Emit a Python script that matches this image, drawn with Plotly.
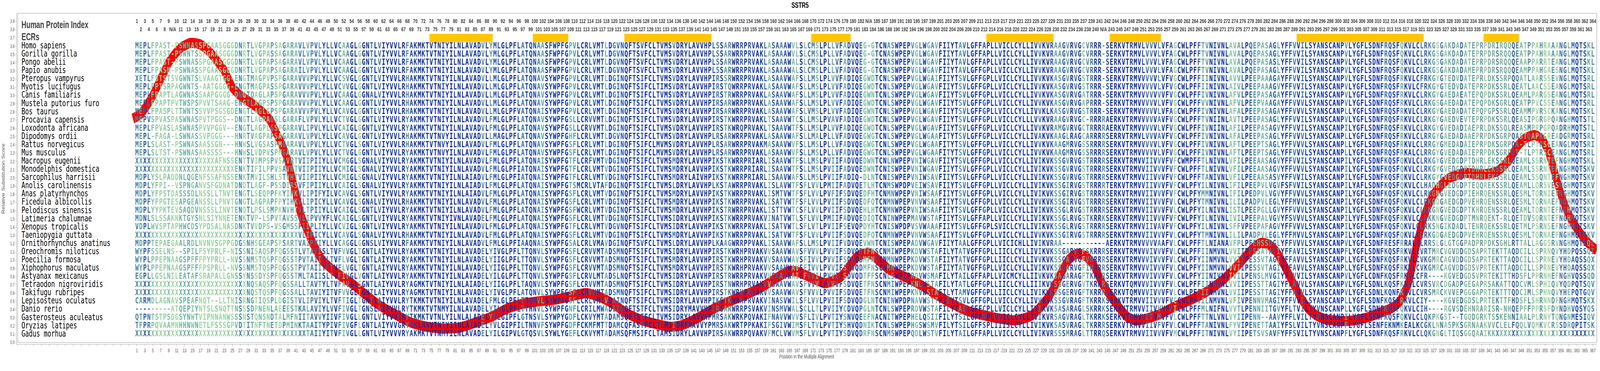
"""SSTR5 alignment with relative substitution score"""
import plotly.graph_objects as go
from plotly.colors import sample_colorscale

SPECIES = [
    "Homo sapiens", "Gorilla gorilla", "Pongo abelii", "Papio anubis",
    "Pteropus vampyrus", "Myotis lucifugus", "Canis familiaris",
    "Mustela putorius furo", "Bos taurus", "Procavia capensis",
    "Loxodonta africana", "Dipodomys ordii", "Rattus norvegicus",
    "Mus musculus", "Macropus eugenii", "Monodelphis domestica",
    "Sarcophilus harrisii", "Anolis carolinensis", "Anas platyrhynchos",
    "Ficedula albicollis", "Pelodiscus sinensis", "Latimeria chalumnae",
    "Xenopus tropicalis", "Taeniopygia guttata", "Ornithorhynchus anatinus",
    "Oreochromis niloticus", "Poecilia formosa", "Xiphophorus maculatus",
    "Astyanax mexicanus", "Tetraodon nigroviridis", "Takifugu rubripes",
    "Lepisosteus oculatus", "Danio rerio", "Gasterosteus aculeatus",
    "Oryzias latipes", "Gadus morhua",
]

# alignment read in six strips; a strip starts at the column in STRIP_START
# (its first letter repeats the last column of the strip before)
STRIP_START = [1, 58, 120, 182, 244, 306]

STRIP_1 = [
    "MEPLFPAST-PSWNASSPGAASGGGDNRTLVGPAPSAGARAVLVPVLYLLVCAAGLGG",
    "MEPLFPAST-PSWNTSSPGAASGGGDNRTLVGPASSAGARAVLVPVLYLLVCAAGLGG",
    "MEPLFPAST-PSWNASSPGAASGGGDNRTLVGPAPSAGARAVLVPVLYLLVCAAGLGG",
    "MEPLFPASM-PSWNASSPGAASGGGDNRTLVGPAPSAGARAILVPVLYLLVCAAGLGG",
    "XETLFSTSTSVGWNTSLVAAGTGG-ENGTMAGPVPSPGARAVVVPVLYLLVCSVGLGG",
    "MEPLFPTSRPAGWNTS-AATGGGG-ENGTMAGPASSPGARAVVVPVLYLLVCVVGLGG",
    "MEPLFPAPTLAGWNASSAAPGGGG-DNGTQAGLAPSPGARAVVVPVLYLLVCAAGLGG",
    "MEPLFPAPTPVTWSPSPVVTSAAG-ENGTLAGPSPSPGARAVVVPVLYLLVCAAGLGG",
    "MEPLFPASPLTTWNTSSVVPSGSGDENGTLAGLGPSPGARAVVVPVLYLLVCAVGLGG",
    "MEPVSPVASPASWNASPVTPGGS--DNGTLAGPAGSLGARAFLVPVLYLLVCTVGLGG",
    "MEPLFPVASLASWNASPVVPGGV--ENGTLAGPLGSPGARAVLIPVLYLLVCAIGLGG",
    "MEPL-FAGA-LSWNASSVPGGG---HNRTVAGPAPSAGARAVLVPVLYLLVCAVGLGG",
    "MEPLSLAST-PSWNASAASSGN---HNWSLVGSASPMGARAVLVPVLYLLVCTVGLSG",
    "MEPLSLTST-PSWNASAASSSS---HNWSLVDPVSPMGARAVLVPVLYLLVCTVGLGG",
    "X" * 20 + "AFNSSENTTVIMPSPVSAVRTVIIPIIYLLVCMGGLSG",
    "X" * 25 + "ENKTIFILPPVSAVRTVIIPIIYLLVCMIGLSG",
    "MDPLYSLPADDNLQGENFSSAFNSSENKTMVILSHLSTVHTVIIPIIYLLVCMIGLSG",
    "MDPLYFPI--VSPNGANVSFGDNATDNDTLAGF-PSSDIRSVFIPIIYLLVCAIGLSG",
    "MDPLYFPSTDASSSDLNSSLLTNVTENGTLSEQPPFKYIHKVLIPIFYILVCAVGLSG",
    "MDPFYFPGTESAPGEANSSLLPNVTGNGTLAGPAPFPYIHKVLIPICYLLVCAVGLSG",
    "MDPLYYPKTEVSAQDVNSSSLINVTENQTLPSLSMPKNVHTVLTPIIYLLVCAIGLSG",
    "MDNLSLSSAKNKTGYSNLSIYNNETENKTVP-LSPVTAVSSVLIPVVYFLVCAIGLSG",
    "VDPLWVSPTAPHWCDSYPDSALNASDNKTVVDPS-VSGMSSFIIPLIYLLVCVIGLSG",
    "X" * 41 + "VLIPICYLLVCAVGLSG",
    "MDPPTEPAEGAALRDLNVNVSGPPGDGSNHSGEAPSPSARTVAIPVIYLLVCAGGLGG",
    "WYPFSSELNS--SPILFSYPRLF-NISSNISAQSPFQGSSTLVTAVISLTVFVVGLTG",
    "WYPLPPEPNAAGSPFFFPYPRLL-NVSSNMSTQSPFQGSSTPVTAIIYLTVFLVGLTG",
    "WYPLPPEPNAAGSPFFFPSPRLL-NVSSNMSTQSPFQGSSTPVTAIIYFTVFLVGLTG",
    "EGPLLGSLNILEATAFSRAPALLGNSSYNSSDYSPFQGSSTMLTAIISLTVFIVGLVG",
    "X" * 28 + "NQSAQSPFQGSSALLTAVTYLTVFAVGLSG",
    "X" * 28 + "NQSTQSPFQGSSALLTAVIYITVFVVGLTG",
    "CARMDLAGNAVSPEAFNQT--LLTNISRNGTIQSPLDGISTVLIPVIYLTVFTIGLTG",
    "---------ATQEPIYNTSLSNQTTNSSSDPNENLAEEESTKALAVIYLVVFIVGLTG",
    "QTPNTSTPSDGSYNWTVIPNNANWSSSNSTQNSNDTALMFNIITAVVYIIVFIVGLLG",
    "TFPRPQVAAMNHHNWNETLFSSSGPVDTITNFTNETDPMINKTAAITYPIVFIVGFLG",
    "X" * 43 + "TAIIYITVFIVGLLG",
]

STRIP_2 = [
    "GNTLVIYVVLRFAKMKTVTNIYILNLAVADVLYMLGLPFLATQNAASFWPFGPVLCRLVMTLD",
    "GNTLVIYVVLRFAKMKTVTNIYILNLAVADVLYMLGLPFLATQNAASFWPFGPVLCRLVMTLD",
    "GNTLVIYVVLRFAKMKTVTNIYILNLAVADVLYMLGLPFLATQNAASFWPFGPVLCRLVMTLD",
    "GNTLVIYVVLRFAKMKTVTNIYILNLAVADVLYMLGLPFLATQNAASFWPFGPVLCRLVMTLD",
    "GNTLVIYVVLRHAKMKTVTNIYILNLAVADVLLMLGLPFLATQNAVSYWPFGPVLCRLVMTLD",
    "GNTLVIYVVLRHAKMKTVTNIYILNLAVADVLLMLGLPFLATQNAVSYWPFGPVLCRLVMTLD",
    "GNALVIYVVLRHAKMKTVTNIYILNLAVADVLLMLGLPFLATQNAVSYWPFGPVLCRLVMTLD",
    "GNTLVIYVVLRHAKMKTVTNIYILNLAVADVLLMLGLPFLATQNAVSYWPFGPVLCRLVMTLD",
    "GNTLVIYVVLRHAKMKTVTNIYILNLAVADVLLMLGLPFVATQNAISYWPFGPVLCRLVMTLD",
    "GNTLVIYVVLRYAKMKTVTNIYILNLAVADVLFMLGLPFLATQNAVSYWPFGSLLCRVVMTLD",
    "GNTLVIYVVLRYAKMKTVTNIYILNLAVADVLFMLGLPFLATQNAVSYWPFGSLLCRVVMTLD",
    "GNTLVIYVVLRHAKMKTVTNVYILNLAVADVLLMAGLPFLATQNAVSYWPFGHFLCRLVMTLD",
    "GNTLVIYVVLRHAKMKTVTNVYILNLAVADVLFMLGLPFLATQNAVSYWPFGSFLCRLVMTLD",
    "GNTLVIYVVLRYAKMKTVTNVYILNLAVADVLFMLGLPFLATQNAVSYWPFGSFLCRLVMTLD",
    "GNALVIYVVLRYAKMKTVTNIYILNLAVADVLFMLGLPFLATQNAISYWPFGTFLCRFVMTVD",
    "GNALVIYVVLRYAKMKTVTNIYILNLAVADVLFMLGLPFIATQNAISYWPFGTFLCRLVMTVD",
    "GNALVIYVVLRYAKMKTVTNIYILNLAIADVLFMLGLPFIATQNAISYWPFGTFLCRLVMTVD",
    "GNALVIYVVLRYAKMKTVTNIYILNLAIADVLFMLGLPFLATQNAISYWPFGTSMCRLVTAFD",
    "GNTLVIYVVLRYAKMKTVTNIYILNLAIADVLFMLGLPFLATQNAISYWPFGSFLCRLVMTVD",
    "GNALVIYVVLRHAKMKTVTNIYILNLAVADVLFMLGLPFLATQNAISYWPFGSFLCRLVMTVD",
    "GNTLVIYVVLRYAKMKTVTNIYILNLAVADVLFMLGLPFLATQNAISYWPFGSFWCRLVMTVD",
    "GNTLVIYVVLRYAKMKTVTNIYIVNLAVADELFMLGLPFLATQNAISYWPFGSFLCRLVMTVD",
    "GNTLVIYVVLRYAKMKTVTNIYILNLAVADVLFMLGLPFLATQNAISYWPFGTFLCRLVMTVD",
    "GNALVIYVVLRHAKMKTVTNIYILNLAVADVLFMLGLPFLATQNAISYWPFGSFLCRLVMTVD",
    "GNSLVIYVVLRFAKMKTVTNIYILNLAVADVLFMLGLPFIAAQNALSYWPFGSALCRLVMAVD",
    "GNTLAIYVVLRYAKMKTVTNIYILNLAVADELYIVGLPFLTTQNVLSYWPFGSFLCRVVMTAD",
    "GNTLAIYVVLRYAKMKTVTNIYILNLAVADELYIIGLPFLTTQNVLSYWPFGSFLCRVVMTAD",
    "GNTLAIYVVLRYAKMKTVTNIYILNLAVADELYIIGLPFLTTQNVLSYWPFGSFLCRVVMTAD",
    "GNTLAIYVVLRYAKMKTVTNIYILNLAVADELYILGLPFLTTQNVLSYWPFGSFLCRVLMTAD",
    "GNTLAIYVVLRYAGMKTVTNIYILNLAIADELYIIGLPFLTAQNVLSYWPFGSFLCRVVMTAD",
    "GNTLAIYVVLRYAGMKTVTNIYILNLAVADELYIVGLPFLATQNVLSYWPFGSFLCRVVMTAD",
    "GNTLAIYVVLRYTKMKTVTNIYILNLAVADELFMLGLPFLTTQNVLSYWPFGSFLCRLVMTVD",
    "GNSLAIFVVLRYTKMKTVTNMYILNLAVADELYILGLPFLTTHNVLSYWPFGNFLCRILMWAD",
    "GNTLVIYVVIRYTKMKTVTNLYILNLALADELYILGIPFLGTNSVLSYWPYGDFLCKVYMTAD",
    "GNTLAIYVVGRYGKLNNVTNIYIINLAIADELYVLGIPFILTNNVFSYWPFGDFFCKMFMTTD",
    "GNTLVIYVVVRYAKMKTVTNMYILNLAVADELYILGIPVLGTQSVLSYWLYGEFLCKVYMTAD",
]

STRIP_3 = [
    "DGVNQFTSVFCLTVMSVDRYLAVVHPLSSARWRRPRVAKLASAAAWVLSLCMSLPLLVFADVQ",
    "DGVNQFTSVFCLTVMSVDRYLAVVHPLSSARWRRPRVAKLASAAAWVLSLCMSLPLLVFADVQ",
    "DGVNQFTSVFCLTVMSVDRYLAVVHPLSSARWRRPRVAKLASAAAWALSLCMSLPLLVFADVQ",
    "DGVNQFTSVFCLTVMSVDRYLAVVHPLSSARWRRPRVAKLASAAAWALSLCMSLPLLVFADVQ",
    "DGINQFTSIFCLTVMSVDRYLAVVHPIRSSRWRRPRVAKLASAAVWAFSLLMSLPLVVFADIQ",
    "DGINQFTSIFCLTIMSVDRYLAVVHPIRSTQWRRPRVAKLASAAVWAFSLLMSLPLVVFADIQ",
    "DGINQFTSIFCLTVMSVDRYLAVVHPIRSTRWRRPRVAKLASAAVWAFSLLMSLPLVVFADIQ",
    "DGINQFTSIFCLTVMSVDRYLAVVHPIRSARWRRPRVAKLASAAVWAFSLLMSLPLVVFADIQ",
    "DGINQFTSIFCLTVMSVDRYLAVVHPIRSARWRRPRVAKLASAAVWAFSLVMSLPLVVFADIQ",
    "DGINQFTSIFCLTVMSVDRYLAVVHPIRSTKWRRPRVAKLTSAAVWTCSLLMSLPVAVFADIQ",
    "DGINQFTSIFCLTVMSVDRYLAVVHPIRSTKWRQPRVAKLTSAAVWTFSLLMSLPLVVFADIQ",
    "DGVNQFTSIFCLTVMSVDRYLAVVHPLRSARWRRPRVAKLASAAVWAFSLLMALPLLVFADVQ",
    "DGINQFTSIFCLMVMSVDRYLAVVHPLRSARWRRPRVAKMASAAVWVFSLLMSLPLLVFADVQ",
    "DGINQFTSIFCLMVMSVDRYLAVVHPLRSARWRRPRVAKLASAAVWVFSLLMSLPLLVFADVQ",
    "DGINQFTSIFCLTVMSMDRYLAVVHPIKSTKWRRPRIARLISAAVWTFSLLMSLPVIIFADVQ",
    "DGINQFTSIFCLTVMSMDRYLAVVHPIKSTKWRRPRIARLISAAVWTFSLLMSLPVIIFADVQ",
    "DGINQFTSIFCLTVMSMDRYLAIVHPIKSTKWRRPRIARLISAAVWAFSLLMSLPVIIFADIQ",
    "DGINQFTSIFCLTVMSLDRYLAVVHPLKSTAWRRPRVAKLISLAVWTFSFLVVLPMIIFADVQ",
    "DGINQFTSIFCLTVMSMDRYLAVVHPIKSTKWRRPRVAKLISMTVWTFSFLVVLPVFIFSDVQ",
    "DGINQFTSIFCLTVMSMDRYLAVVHPIKSTKWRRPRVAKLISATVWTFSFLVVLPVIIFSDVQ",
    "DGINQFTSIFCLTVMSMDRYLAVVHPIKSTRWRRPRVAKLISTTVWTCSFLVVLPVIIFSDVQ",
    "DGINQFTSIFCLTVMSIDRYLAVVHPIKSTKWRRPRVAKVINATVWTLSFLVVLPMIIFADVQ",
    "DGVNQFTSIFCLTVMSIDRYLAVVHPIKSTKWRRPRVAKLISATVWTLSFLVTLPVIIFSEVQ",
    "DGINQFTSIFCLTVMSMDRYLAVVHPIKSTKWRRPRVAKLISATVWTFSFLVVLPVIIFSDVQ",
    "DGINQFTSVFCLTVMSLDRYLAVVHPLKAAGWRRPPVAKLISAAVWAFSLLMSLPVIIFVDVQ",
    "DSMNQFTSIFCLTVMSIDRYLAVVHPIRSTKWRHPRVAKVVSAAVWAVSFVVVLPVVIFSDVQ",
    "DSMNQFTSIFCLTVMSMDRYLAVVHPIRSTKWRHPRVAKVVSAAVWAVSFIVVLPVVIFSDVQ",
    "DSMNQFTSIFCLTVMSMDRYLAVVHPIRSTKWRHPRVAKVVSAAVWAVSFIVVLPVVIFSDVQ",
    "DSLNQFTSIFCLTVMSIDRYLAVVHPIRSTRWRRPRVAKVVSAAVWAISFVVILPVVIFSDVQ",
    "DSMNQFTSIFCLTVMSIDRYLAVVHPIRSTNWRHPRVAKVVSAAVWAVSFVVVLPVVVFSDVQ",
    "DSMNQFTSIFCLTVMSIDRYLAVVHPIRSTKWRHPRVAKVVSAAVWAVSFVVVLPVVIFSDVQ",
    "DAINQFTSIFCLTVMSIDRYLAVVHPIKSTKWRRPRVAKVINASVWILSFLVVLPVIIFSDVQ",
    "DSISQFTSTFCLTVMSIDRYMAVVHPIRSARWRRPSVAKVINSMVWALSCLLTLPVIIYCDVQ",
    "DAMSQFTSTFCLTVMSIDRYLAVVHPMRSAKWRKPQVAKIFNAVVWVVSFLIVLPVTIYSNVQ",
    "DAMCQFASTFCLTLMSIDRFMAVVYPMRSAKWRTPPKAKIFSGIVWIMSFLTVLPVTIYSHVQ",
    "DAMSQFMSIFCLTAMSIDRYLAVVHPIRSAKWRRPQVAKVFMCLVWVMSFLVVLPVTIYSDVQ",
]

STRIP_4 = [
    "QEG-GTCNASWPEPVGLWGAVFIIYTAVLGFFAPLLVICLCYLLIVVKVRAAGVRVGCVRRR-",
    "QEG-GTCNASWPEPVGLWGAVFIIYTAVLGFFAPLLVICLCYLLIVVKVRAAGVRVGCVRRR-",
    "QEG-GTCNASWPEPVGLWGAVFIIYTAVLGFFAPLLVICLCYLLIVVKVRAAGVRVGCVRRR-",
    "QEG-GTCNASWPEPVGLWGAVFIIYTAVLGFFGPLLVICLCYLLIVVKVRAAGVRVGCVRRR-",
    "QEGWDTCNLSWPEPVGLWGAIFIIYTSVLGFFGPLLVICLCYLLIVVKVKASGVRVGSTRRR-",
    "QEGWDTCNLSWPEPVGLWGAVFIIYTSVLGFFGPLLVICLCYLLIVVKVKASGVRVGSTRRR-",
    "QEGWNTCNLSWPEPVGLWGAVFIIYTSVLGFFGPLLVICLCYLLIVVKVKASGVRVGATRRR-",
    "QEGWDTCNLSWPEPVGLWGAVFIIYTSVLGFFGPLLVICLCYLLIVVKVKASGVRVGAPRRR-",
    "QEGWNTCNLSWPEPVGLWGAVFIIYTSVLGFFGPLLVICLCYLLIVVKLKASGVRVGSTRRR-",
    "QEGWDTCNLSWPEPVGLWGAVFIIYTSVLGFFGPLLVICLCYLLLVVKVRAAGVRVGC-RRRR",
    "QEGWDTCNLSWPEPVGLWGAVFIIYTSVLGFFGPLLVICLCYLLIVVKVRAMGVRVGCTRRRR",
    "QEGWGTCNLSWPEPVGLWGAAFITYTSVLGFFGPLLVICLCYLLIVAKVKAAGLRAGCARRRR",
    "QEGWGTCNLSWPEPVGLWGAAFITYTSVLGFFGPLLVICLCYLLIVVKVKAAGMRVGSSRRRR",
    "QEGWGTCNLSWPEPVGLWGAAFITYTSVLGFFGPLLVICLCYLLIVVKVKAAGMRVGSSRRRR",
    "QEDWNTCNLNWPEPVNIWGAVFIIYTSVLGFFGPLLVICLCYLLIVIKVKSSGVRVGSTRRRR",
    "QEDWNTCNISWPEPVNIWGAVFIIYTSVLGFFGPLLVICLCYLLIVIKVKSSGVRVGSTRRRR",
    "Q-DLNTCNISWPEPVNIWSAVFIIYTSVLGFFGPLLVICLCYLLIVIKVKSSGVRVGSTRRRR",
    "QETLHTCNMSWPDPVEIWSAVFIIYTSVLGFFGPLLVICLCYLLIVIKVKSSGIRVGSTRRRR",
    "QEDFHTCNMNWPEPVNIWSAAFIIYTSVLGFFGPLLVICLCYLLIVIKVKSSGIRVGSTRRRR",
    "QEDFQTCNMNWPEPVNVWSAAFIIYTSVLGFFGPLLVICLCYLLIVVKVKSSGIRVGSTRRRR",
    "QEHLHTCNMNWPEPVNIWSAAFIIYTSVLGFFGPLLVICLCYLLIVIKVKSSGLRVGSTRRRR",
    "QEDIQTCNINWPEPMAVWSTAFIIYTSVLGFFAPLLVICLCYLLIVIKVKSSGLRVGSTKRRK",
    "QPDYHTCNISWPDPVSVWAAAFIIYTSVLGFFGPLSVICLCYLLIVIKVKSSGLRVGSTRRRR",
    "QEDFQTCNMNWPEPVNVWSAAFIIYTSVLGFFGPLLVICLCYLLIVVKVKSSGIRVGSTRRRR",
    "QEVWNTCNISWPEPADVWGAVFIIYTAALGFFGPLLVICICHLLIVIKVRAA" + "-" * 11,
    "QDTFNSCNMIWPEPKDVWSTAFILYTATVGFFGPLLIICLCYLLIVIKVKSSGARVGFSKRRR",
    "QDMFNSCNMNWPEPKDVWSTAFIIYTATVGFFGPLLIICLCYLLIVVKVKSSGARVGFVNRRR",
    "QDMFNSCNMNWPEPKDVWSTAFIIYTATVGFFGPLLVICLCYLLIVIKVKSSGARVGFINRRR",
    "QDTFFSCNLSWPEPRDVWSMAFILYTAILGFFAPLLVICMCYLLIIVKVKSAGARAGFTKRRR",
    "QETFNSCNMIWPEPKNLWSTAFILYTATLGFFGPLLIICLCYLLIIIKVKSSGERVGVTKRRR",
    "QETFNSCNMIWPEPKNVWSTAFILYTAMVGFFGPLLIICLCYLLIVIKVKSSGERVGFTKRRR",
    "QDGLNTCNINWPDPNAVWSTTFIIYTSVLGFFGPLLVICLCYLLIVVKVKSSGVRAGFTKRRK",
    "QPGLNTCNLSWPEPRDVWSTAFILYTAILGFFCPLLVICLCYLLIVIKVKSASARAGLSKRRK",
    "QEEFNACNITWPEPHELQSIIFILYTSILGFFGPLVVICLCYLLIVIKVRSAGVRAGLTKRRK",
    "QDNIKTCNLSWPEPHGSWSMVFILYTSILGFFSPLIIISLCYLLIVIKVKSASVRAGLTKRRR",
    "QDRFNSCNMSWPEPQDLWSTVFILYTAILGFFAPLLVICLCYLLIVIKVRSSSMRAGLTTRRQ",
]

STRIP_5 = [
    "-SERKVTRMVLVVVLVFAGCWLPFFTVNIVNLAVALPQEPASAGLYFFVVILSYANSCANPVL",
    "-SERKVTRMVLVVVLVFAGCWLPFFTVNIVNLAVALPQEPASAGLYFFVVILSYANSCANPVL",
    "-SERKVTRMVLVVVLVFAGCWLPFFTVNIVNLAVALPQEPASASLYFFVVILSYANSCANPVL",
    "-SERKVTRMVLVVVLVFAGCWLPFFTVNIVNLAVALPQEPASAGLYFFVVILSYANSCANPVL",
    "-SERKVTRMVVVVVLVFVGCWLPFFIINIVNLAVVLPEEPAAAGAYFFVVILSYANSCANPVL",
    "-SERKVTRMVVVVVLVFVGCWLPFFIINIVNLAIVLPEEPAAAGVYFFVVILSYANSCANPVL",
    "-SERKVTRMVVVVVVVFVGCWLPFFIVNIVNLAFVLPEEPASAGAYFFVVILSYANSCANPVL",
    "-SERKVTRMVVVVVLVFVGCWLPFFVVNIVNLAFVLPEEPVAAGAYFFVVVLSYANSCANPVL",
    "-SERKVTRMVVVVVLVFAGCWLPFFIVNIVNLAFALPEEPASAGAYFFVVVLSYANSCANPLL",
    "RAERKVTRMVVVVVAVFVGCWLPFFTVNIINLAVTLPEEPASAGLYFFVVILSYANSCANPVL",
    "RAERKVTRMVVVVVLVFVGCWLPFFIVNIINLAFILPEEPASAGVYFFVVILSYANSCANPIL",
    "RSERRVTRMVLVVVAVFVGCWLPFFIVNIVNLAFALPEEPASAGLYFFVVVLSYANSCANPLL",
    "RSERKVTRMVVVVVLVFVGCWLPFFIVNIVNLAFTLPEEPTSAGLYFFVVVLSYANSCANPLL",
    "RSERKVTRMVVVVVLVFVGCWLPFFIVNIVNLAFTLPEEPTSAGLYFFVVVLSYANSCANPLL",
    "RSERKVTRMVVIIVVVFVFCWMPFFTLNIVNLVFILPEEAASAGVYFFVVILSYANSCANPIL",
    "RSERKVTRMVVIIVVVFVFCWLPFFTLNIVNLVFILPEEAASAGVYFFVVVLSYANSCANPIL",
    "RSERKVTRMVVIIVVVFVFCWLPFFTANIVNLVFILPEEAASASVYFFVVILSYANSCANPIL",
    "RTERKVTRMVVIIVVVFVFCWLPFYILNIVNLIFILPEEPVLVGVFSFVVILSYANSCANPIL",
    "RSERKVTRMVVIIVVVFVFCWLPFYMMNIVNLIFILPEDPVLVGVYFFVVVLSYANSCANPIL",
    "RSERKVTRMVVIIVVVFVLCWLPFYTMNIVNLILILPADPVLEGLYFFMVVLSYANSCANPIL",
    "RSERKVTRMVVIIVVVFVLCWLPFYILNIVNLISTLPEEPGLLGVYFFVVVLSYANSCANPIL",
    "KSERKVTRMVVIIVVVFVFCWLPFYILNIVNLIVILPEEPALVGVYFSVVVLSYANSCANPIL",
    "RSERKVTRMVVIIVAVFVFCWLPFYILNIVNLSFFVPEEPAFAGVYFFVVVLSYANSCANPIL",
    "RSERKVTRMVVIIVVVFVLCWLPFYTMNIVNLILILPADPVLEGLYFFMVVLSYANSCANPIL",
    "-AERKVTRMVVVVVAAFVLCWLPFFTLNIANAVFPLPEEHSSDGLYFFVVVLSYANSCANPVL",
    "RSERKVTRMVVVIVVVFVLCWLPFFIINMVNLVVIIPESSATAGIYFFAVILSYANSCANPFL",
    "RSERKVTRMVVVIVVVFVLCWLPFYIINMVNLVVIIPESSVTAGIYFFAVVLSYANSCANPLL",
    "RSERKVTRMVVVIVVVFVLCWLPFYIINMVNLVVIIPESSVTAGIYFFAVVLSYANSCANPLL",
    "RSERKVTRMVVVIVVVFVLCWLPFYIINIVNVIVILPENSLMVGIYFTVVILSYANSCANPVL",
    "RSERKVTQMVVVIVVVFVLCWLPFFIINMVNLVVIIPESSTTAGIYFFAVVLSYANSCANPVL",
    "RSERKVTQMVVVIVVVFVLCWLPFFIINMVNLVVIIPESSTTAGIYFFAVVLSYANSCANPVL",
    "KSERKVTRMVVIIVVVFVCCWLPFYILNMVNLVFIVPENNVMAGIYFFVVILSYANSCANPLL",
    "KSEKKVTRMVVIIVVVFVICWLPFFMLNIFNLVVTLPENNIITGVYFLTVILTYVNSCANPLL",
    "KSERKVTRMVVITVMVFVLCWLPFFTTNLVNLVYIIPENN--AAVYFFLVILTYVNSCANPIL",
    "RSERKVTRMVVIIVFVFVLCWLPFFTANIVNLFYVIPENETTAAIYFSLVILTYVNSCANPFL",
    "QSERKVTRMVVIIVVVFVMCWLPFFITNIVNLVYIIPETSVSAVFYFFSVILTYVNSCANPFL",
]

STRIP_6 = [
    "LYGFLSDNFRQSFQKVLCLRKGSGAKDADATEPRPDRIRQQQEATPPAHRAAANGLMQTSKL",
    "LYGFLSDNFRQSFQKVLCLRKGSGAKDADATEPRPDRSRQQQEATPPAHRAAANGLMQTSKL",
    "LYGFLSDNFRQSFQKVLCLRKGSGAKDADATEPRPDRSRQQQEAAPPARRTEANGLMQTSKL",
    "LYGFLSDNFRQSFQKVLCLRKGSGAKDADAMEPRPDRSRQQQEAMPPAHGAESNGLMQTSKL",
    "LYGFLSDNFRQSFRKVLCFRKGYGTEDVDATEPRLDKSSRPQQATLAARSSEVNGLMQTSRL",
    "LYGFLSDNFRQSFRKVLCFRKGYGTEDVDATEPRPDKSSRLQEATLAACSSEANGLMQTSRL",
    "LYGFLSDNFRQSFRKVLCLRKGYGAEDAEATEPQPDKSSRLQEAMLPARGSEANGLMQTSRL",
    "LYGFLSDNFRQSFRKVLCLRKGSGAEDADATEPQPDKSGRLQEATPPVCSSEANGLMQTSRL",
    "LYGFLSDNFRQSFRKVLCLRKGYGAEDADATEPQPGPSSRLQEAMMPVRSCKANGLMQTSKL",
    "LYGFLSDNFRQSFRKVLCLRKGYGAEDVEVTEPRPDKSSRLQEASIPGRGPQANGHMQTSTL",
    "LYGFLSDNFRQSFRKVLCLRKGYGVEDADIAEPRLDKSSQLREASMPRPGPQADRHMQTSTL",
    "LYGFLSDNFRQSFRKVLCLRRGYGAEDADAAEPRPDKSGRPQASTQAPRGREADGRMQTSRL",
    "LYGFLSDNFRQSFRKVLCLRRGYGMEDADAIEPRPDKSGRPQA-TLPTRSCEANGLMQTSRI",
    "LYGFLSDNFRQSFRKALCLRRGYGVEDADAIEPRPDKSGRPQT-TLPTRSCEANGLMQTSRL",
    "LYGFLSDNFKQSFQKVLCLRKGYGVEDGDPTDHRLEKSSRLQEAMLSSRNTEFNGHMQTSKL",
    "LYGFLSDNFKQSFQKVLCLRKGYGVEDGDPTDHRLEKSSRLQEAMLSSRNTEFNGHMQTSKV",
    "LYGFLSDNFKQSFQKVLCLRKGYGVEDGDPTDHRLEKSSRLQEAMLSSQNTEFNGHMQTSKV",
    "LYAFLSDNFKQSFQKVLCLHADHGLEDGDPTEQQREKSSRLQEAMLLQRSVESNGHMQTSKV",
    "LYGFLSDNFKQSFQKVLCLRKGNGVEDGDPIEHRQENSSRLQESMLTQRNIEFNGHMQTSKV",
    "LYGFLSDNFKQSFQKVLCLRKGDGAEDGDPVEHRQENSSRLQESMLTQRNAEFNGHMQTSKV",
    "LYGFLSDNFKQSFQKVLCLRKGNGVEDGDPTKHRQENSSRLQEAMLTQRNTEFNGHMQTSKV",
    "LYVFLSDNFKQSFRKVLCLRKKNGVEDGDPTMNRQEKT-RLQETDVSQRNTEFNGHMQTSKV",
    "LYGFLSDNFKQSFQKVLCLRKSNGIKDADLTENRQEKSSRLQETMLPSRNSEFNGHMQTSKV",
    "LYGFLSDNFKQSFQKVLCLRKGDGAEDGDPVEHRQENSSRLQESMLTQRNAEFNGHMQTSKV",
    "LYGFLSDNFRESFRRALGLRRSLGLGTGGPADPRPDKSGHLRTTALLAGGSRVNGHMQTSQL",
    "LYGFLSDNFKQSFRKVLCVRTMRCVGVDDGDSAPRTEKTTAQDCILLSPRNQVYHDPQSSQI",
    "LYGFLSDNFKQSFRKVLCVKGMRCAGVDDGDSAPRTEKTTAQDCILLSPRNEVYHDAQSSQX",
    "LYGFLSDNFKQSFRKVLCVKGMRCAGVDDGDSVPRTEKTTAQDCILLSPRNEVYHDAQSSQX",
    "LYGFLCDNFKQSFRKVLCFR----KGVEDGDSVPRTEKITTHDSFLPPRNHEFNGHVQSSQD",
    "LYGFLSDNLKQSFKKVLCVRSVRCDGADPGEGAPRSAKATTQDCVMLSPHIQVYQDPQTSQV",
    "LYGFLSDNLKQNFKKVLCVRSMRCKVVEPGGGAPRTEKTTTQDCIMLSPHNQVYHEPQTGQV",
    "LYGFLSDNFKQSFRKVLCIY----KGVEDGDSLPRTEKTTFHDSFLSHRNNDFNGHMQTSKX",
    "LYGFLSDNFKRSFQKVLCIH----RGVSDEHNRARISR-NHQEPFFPPRSFDYNDHVQSYQS",
    "LYGFLSENFKQSFQKVLCLQKPKGST--TGQDGRKTSSKENNIAALPLRNYTQNGNMESIQV",
    "LYGFLSENFEKNMKEALKCGKLNNASPKSGRNAAKVVCLELFQQLVQMKVCRSSDRQPITSK",
    "LYGFLSDNFKQSFRKVLCLQKGNGLTIQSGGQAAIKK" + "X" * 25,
]

# ECRs, given in human protein index
ECR_START = [74, 100, 123, 170, 213, 243, 290, 337]
ECR_END = [89, 108, 144, 179, 229, 255, 321, 345]

# relative substitution score along the alignment
SCORE_X = [0, 2, 3.5, 5, 6, 7, 8, 9, 10.5, 12, 14.5, 17, 19.5, 21.5, 23, 24,
           25, 27, 30, 32.5, 34.5, 35.5, 36.5, 37.5, 38.3, 39, 39.5, 40, 40.5,
           41, 41.5, 42, 42.6, 43.5, 44.4, 45.3, 46.4, 47.6, 49.8, 52.5, 55.5,
           58, 62, 66, 70, 74, 78, 82, 86, 90, 94, 98, 102, 106, 110, 114, 118,
           121, 124, 128, 132, 135, 138, 142, 146, 150, 154, 158, 162, 165,
           167, 170, 174, 178, 182, 185, 190, 194, 198, 202, 206, 210, 214,
           218, 222, 226, 229.5, 231.5, 233.5, 235.5, 237.5, 239.5, 241.5, 244,
           246, 248, 250, 252, 254, 258, 262, 266, 270, 274, 278, 281.5, 283.5,
           285.5, 287.5, 289.5, 291.5, 293.5, 295.5, 297.5, 300, 304, 307, 310,
           314, 316.5, 318.5, 319.5, 320.5, 321.5, 322.3, 323.3, 324.4, 325.5,
           327, 329, 331, 335, 339, 343, 346, 348, 350, 352.5, 354.5, 356,
           357.5, 359, 360.5, 361.5, 362.8, 364.3, 366, 368]
SCORE_Y = [2.72, 2.78, 2.88, 3.0, 3.1, 3.2, 3.3, 3.4, 3.5, 3.58, 3.64, 3.62,
           3.52, 3.4, 3.3, 3.2, 3.1, 3.0, 2.9, 2.8, 2.7, 2.6, 2.5, 2.4, 2.3,
           2.2, 2.1, 2.0, 1.9, 1.8, 1.7, 1.6, 1.5, 1.4, 1.3, 1.2, 1.1, 1.0, 0.9,
           0.8, 0.7, 0.6, 0.45, 0.34, 0.24, 0.19, 0.17, 0.18, 0.24, 0.31, 0.41,
           0.47, 0.5, 0.52, 0.56, 0.6, 0.54, 0.46, 0.36, 0.27, 0.22, 0.19, 0.21,
           0.3, 0.41, 0.5, 0.58, 0.67, 0.79, 0.87, 0.86, 0.8, 0.72, 0.8, 1.04,
           1.09, 0.89, 0.8, 0.7, 0.58, 0.47, 0.38, 0.33, 0.29, 0.27, 0.33, 0.51,
           0.66, 0.86, 1.02, 1.08, 1.05, 0.94, 0.69, 0.55, 0.42, 0.31, 0.27,
           0.28, 0.34, 0.44, 0.52, 0.62, 0.76, 0.95, 1.14, 1.21, 1.19, 1.1,
           0.93, 0.74, 0.55, 0.41, 0.33, 0.28, 0.26, 0.27, 0.3, 0.37, 0.42, 0.5,
           0.6, 0.7, 0.9, 1.1, 1.3, 1.5, 1.65, 1.8, 1.92, 2.0, 2.06, 2.04, 2.08,
           2.22, 2.38, 2.48, 2.52, 2.45, 2.3, 2.05, 1.8, 1.6, 1.5, 1.4, 1.3,
           1.2, 1.12]

# residue groups counted as half a match when scoring a column
SIMILAR = ["ILMV", "FYW", "KRH", "DE", "NQ", "ST", "AG"]
SEQ_SCALE = [[0.0, "#a3d6a2"], [0.2, "#84c1a0"], [0.4, "#66a59f"],
             [0.55, "#4f88a2"], [0.7, "#3b6aa6"], [0.85, "#2550a6"],
             [1.0, "#0c2f9f"]]

FIG_W, FIG_H = 5980, 950


def column_score(chars):
    chars = [c for c in chars if c not in "X "]
    if not chars:
        return 0.0
    counts = {}
    for c in chars:
        counts[c] = counts.get(c, 0) + 1
    top = max(counts, key=counts.get)
    group = next((g for g in SIMILAR if top in g), top)
    close = sum(1 for c in chars if c != top and c in group)
    return (counts[top] + 0.5 * close) / len(chars)


strips = [STRIP_1, STRIP_2, STRIP_3, STRIP_4, STRIP_5, STRIP_6]
n_cols = STRIP_START[-1] + max(len(s) for s in STRIP_6) - 1
grid = []
for i in range(len(SPECIES)):
    cells = {}
    for start, strip in zip(STRIP_START, strips):
        for j, ch in enumerate(strip[i]):
            cells.setdefault(start + j, ch)
    grid.append([cells.get(c, " ") for c in range(1, n_cols + 1)])

row_y = [round(3.6 - 0.1 * i, 2) for i in range(len(SPECIES))]

col_colors = []
for c in range(n_cols):
    s = column_score([row[c] for row in grid])
    t = min(max((s - 0.3) / 0.7, 0.0), 1.0)
    col_colors.append(sample_colorscale(SEQ_SCALE, t)[0])

xs, ys, letters, colors = [], [], [], []
for y, row in zip(row_y, grid):
    for c, ch in enumerate(row, start=1):
        if ch == " ":
            continue
        xs.append(c)
        ys.append(y)
        letters.append(ch)
        colors.append(col_colors[c - 1])

# human protein index above every alignment column
index_labels = []
n = 0
for ch in grid[0]:
    if ch == "-":
        index_labels.append("N/A")
    else:
        n += 1
        index_labels.append(str(n))
cols = list(range(1, n_cols + 1))
col_of = {lab: c for c, lab in zip(cols, index_labels)}

MONO = "DejaVu Sans Mono"
SANS = "Liberation Sans"

fig = go.Figure()
fig.add_trace(go.Scatter(
    x=SCORE_X, y=SCORE_Y, mode="lines",
    line=dict(color="#ff0000", width=26, shape="spline", smoothing=0.6),
    hoverinfo="skip"))
fig.add_trace(go.Scatter(
    x=xs, y=ys, text=letters, mode="text",
    textfont=dict(family=MONO, size=22, weight="bold", color=colors),
    hoverinfo="skip"))
fig.add_trace(go.Scatter(
    x=cols, y=[3.9 if c % 2 else 3.8 for c in cols], text=index_labels,
    mode="text",
    textfont=dict(family=SANS, size=15, weight="bold", color="#444444"),
    hoverinfo="skip"))
fig.add_trace(go.Scatter(
    x=[-28] * len(SPECIES), y=row_y, text=SPECIES, mode="text",
    textposition="middle right",
    textfont=dict(family=MONO, size=23, color="black"),
    hoverinfo="skip"))
fig.add_trace(go.Scatter(
    x=[-28, -28], y=[3.85, 3.7], text=["Human Protein Index", "ECRs"],
    mode="text", textposition="middle right",
    textfont=dict(family=SANS, size=25, weight="bold", color="#444444"),
    hoverinfo="skip"))

for s, e in zip(ECR_START, ECR_END):
    fig.add_shape(type="rect", x0=col_of[str(s)] - 0.45,
                  x1=col_of[str(e)] + 0.45, y0=3.65, y1=3.75,
                  fillcolor="#ffc600", line=dict(color="#ffe27a", width=1))

# plot frame, drawn just inside the axis lines
fig.add_shape(type="rect", xref="paper", yref="paper",
              x0=4 / 5911, y0=4 / 847, x1=1, y1=1,
              line=dict(color="#888888", width=1))

xticks = list(range(-29, n_cols + 1, 2))
yticks = [round(0.1 * k, 1) for k in range(40)]
fig.update_layout(
    width=FIG_W, height=FIG_H,
    margin=dict(l=57, r=12, t=34, b=69),
    plot_bgcolor="white", paper_bgcolor="white",
    showlegend=False,
    title=dict(text="<b>SSTR5</b>", x=0.5, xanchor="center",
               y=1 - 13 / FIG_H, yanchor="middle",
               font=dict(family=SANS, size=20, color="black")),
    xaxis=dict(range=[-29.24, 368.0], tickmode="array", tickvals=xticks,
               ticktext=[str(v) if v >= 1 else "" for v in xticks],
               ticks="outside", ticklen=4, tickcolor="#999999",
               showline=True, linecolor="#999999", showgrid=False,
               zeroline=False,
               tickfont=dict(family=SANS, size=13, color="#555555"),
               title=dict(text="Position in the Multiple Alignment",
                          standoff=0,
                          font=dict(family=SANS, size=14, color="#555555"))),
    yaxis=dict(range=[-0.019, 4.0], tickmode="array", tickvals=yticks,
               ticktext=["%.1f" % v for v in yticks],
               ticks="outside", ticklen=4, tickcolor="#999999",
               showline=True, linecolor="#999999", showgrid=False,
               zeroline=False,
               tickfont=dict(family=SANS, size=12, color="#555555"),
               title=dict(text="Relative Substitution Score",
                          font=dict(family=SANS, size=15, color="#555555"))),
)

# keep the whole figure inside the browser window, whatever its size
FIT_JS = """
var gd = document.getElementById('{plot_id}');
var box = gd.parentElement;
document.documentElement.style.overflow = 'hidden';
document.body.style.margin = '0';
document.body.style.overflow = 'hidden';
var sx = window.innerWidth / %d, sy = window.innerHeight / %d;
box.style.width = window.innerWidth + 'px';
box.style.height = window.innerHeight + 'px';
box.style.overflow = 'hidden';
gd.style.transformOrigin = '0 0';
gd.style.transform = 'scale(' + sx + ',' + sy + ')';
""" % (FIG_W, FIG_H)

fig.write_html("out.html", post_script=FIT_JS,
               config={"displayModeBar": False})
